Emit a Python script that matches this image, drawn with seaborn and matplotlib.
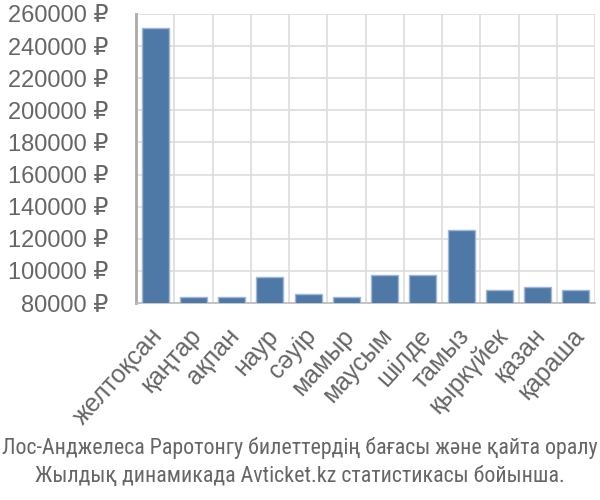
import matplotlib
matplotlib.use("Agg")
import matplotlib.pyplot as plt
import matplotlib.transforms as mtransforms
import seaborn as sns
import pandas as pd
from matplotlib import font_manager

months = ["желтоқсан", "қаңтар", "ақпан", "наур", "сәуір", "мамыр",
          "маусым", "шілде", "тамыз", "қыркүйек", "қазан", "қараша"]
prices = [251000, 83500, 83500, 96300, 85400, 83500,
          97300, 97300, 125300, 88100, 89800, 88100]
yticks = [80000, 100000, 120000, 140000, 160000, 180000,
          200000, 220000, 240000, 260000]
title_lines = ["Лос-Анджелеса Раротонгу билеттердің бағасы және қайта оралу",
               "Жылдық динамикада Avticket.kz статистикасы бойынша."]

sns.set_theme(style="white")
names = {f.name for f in font_manager.fontManager.ttflist}
narrow = "Roboto"
for cand in ["Liberation Sans Narrow", "Roboto Condensed", "Open Sans Condensed",
             "Arial Narrow", "Roboto"]:
    if cand in names:
        narrow = cand
        break
plt.rcParams["font.family"] = ["Liberation Sans", "DejaVu Sans"]

df = pd.DataFrame({"month": months, "price": prices})

fig = plt.figure(figsize=(6, 5), dpi=100)
ax = fig.add_axes([0.2267, 0.394, 0.765, 0.578])
sns.barplot(data=df, x="month", y="price", ax=ax, color="#4e79a7",
            saturation=1, width=0.71, edgecolor="#9fb7d3", linewidth=1, zorder=3)

ax.set_ylim(80000, 260000)
ax.set_xlim(-0.5, len(months) - 0.5)
ax.set_yticks(yticks)
ax.set_yticklabels([f"{v} ₽" for v in yticks])
ax.set_xticks([i - 0.5 for i in range(len(months) + 1)], minor=True)
ax.grid(False)
ax.grid(True, axis="y", which="major", color="#dddddd", linewidth=1.2, zorder=0)
ax.grid(True, axis="x", which="minor", color="#dddddd", linewidth=1.2, zorder=0)
ax.tick_params(axis="y", which="major", length=18, color="#dddddd", width=1.2,
               labelsize=17, labelcolor="#666666", pad=2)
ax.tick_params(axis="x", which="minor", length=17, color="#dddddd", width=1.2)
ax.tick_params(axis="x", which="major", length=0, labelsize=18,
               labelcolor="#666666", pad=15)
offset = mtransforms.ScaledTranslation(-5 / 100, 0, fig.dpi_scale_trans)
for lab in ax.get_xticklabels():
    lab.set_rotation(48)
    lab.set_ha("right")
    lab.set_rotation_mode("anchor")
    lab.set_transform(lab.get_transform() + offset)
ax.set_xlabel("")
ax.set_ylabel("")
for s in ["top", "right"]:
    ax.spines[s].set_visible(False)
ax.spines["left"].set_color("#aaaaaa")
ax.spines["left"].set_linewidth(2)
ax.spines["bottom"].set_color("#bbbbbb")
ax.spines["bottom"].set_linewidth(1.2)

t1 = fig.text(0.5, 0.104, title_lines[0], ha="center", va="center", fontsize=17,
              color="#666666", family=[narrow, "DejaVu Sans"])
t2 = fig.text(0.5, 0.048, title_lines[1], ha="center", va="center", fontsize=17,
              color="#666666", family=[narrow, "DejaVu Sans"])
fig.canvas.draw()
r = fig.canvas.get_renderer()
w = t1.get_window_extent(r).width
size = min(17, 17 * 597 / w)
t1.set_fontsize(size)
t2.set_fontsize(size)

fig.savefig("out.png", dpi=100)
